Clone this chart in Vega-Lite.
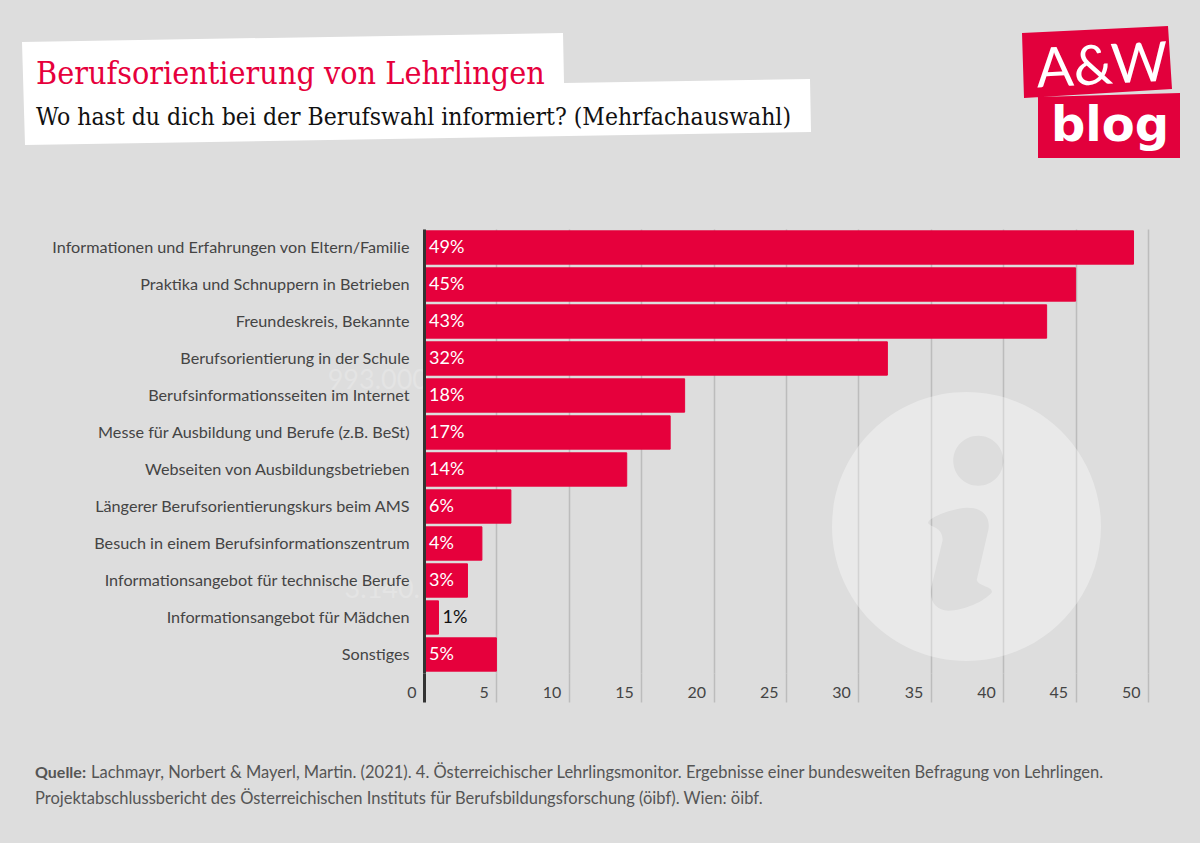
{
"$schema":"https://vega.github.io/schema/vega-lite/v6.json",
"autosize":"none",
"width":724,"height":444,
"padding":{"left":424,"top":229,"right":52,"bottom":170},
"background":"#dddddd",
"view":{"stroke":null},
"title":{"text":"Berufsorientierung von Lehrlingen","subtitle":"Wo hast du dich bei der Berufswahl informiert? (Mehrfachauswahl)","frame":"group","anchor":"start","dx":-388,"dy":104,"offset":0,"zindex":1,"font":"DejaVu Serif Condensed","fontSize":32,"fontWeight":"normal","color":"#e6003c","subtitleFont":"DejaVu Serif Condensed","subtitleFontSize":24.5,"subtitleColor":"#111111","subtitlePadding":15},
"datasets":{
"rows":[
{"Kategorie":"Informationen und Erfahrungen von Eltern/Familie","Anteil":49,"Label":"49%"},
{"Kategorie":"Praktika und Schnuppern in Betrieben","Anteil":45,"Label":"45%"},
{"Kategorie":"Freundeskreis, Bekannte","Anteil":43,"Label":"43%"},
{"Kategorie":"Berufsorientierung in der Schule","Anteil":32,"Label":"32%"},
{"Kategorie":"Berufsinformationsseiten im Internet","Anteil":18,"Label":"18%"},
{"Kategorie":"Messe für Ausbildung und Berufe (z.B. BeSt)","Anteil":17,"Label":"17%"},
{"Kategorie":"Webseiten von Ausbildungsbetrieben","Anteil":14,"Label":"14%"},
{"Kategorie":"Längerer Berufsorientierungskurs beim AMS","Anteil":6,"Label":"6%"},
{"Kategorie":"Besuch in einem Berufsinformationszentrum","Anteil":4,"Label":"4%"},
{"Kategorie":"Informationsangebot für technische Berufe","Anteil":3,"Label":"3%"},
{"Kategorie":"Informationsangebot für Mädchen","Anteil":1,"Label":"1%"},
{"Kategorie":"Sonstiges","Anteil":5,"Label":"5%"}
],
"one":[{"a":1}]
},
"layer":[
{"data":{"name":"one"},"mark":{"type":"point","filled":true,"opacity":1,"size":4,"color":"#ffffff","shape":"M-402,-187 L139,-196 L140,-146 L386,-150 L387,-97 L-399,-84 Z"},"encoding":{"x":{"value":0},"y":{"value":0}}},
{"data":{"name":"one"},"mark":{"type":"text","text":"993.000","font":"Lato","fontSize":27,"align":"right","baseline":"middle","color":"#e4e4e4"},"encoding":{"x":{"value":4},"y":{"value":152}}},
{"data":{"name":"one"},"mark":{"type":"text","text":"3.140.","font":"Lato","fontSize":27,"align":"right","baseline":"middle","color":"#e4e4e4"},"encoding":{"x":{"value":-4},"y":{"value":361}}},
{"data":{"name":"rows"},
"mark":{"type":"bar","color":"#e6003c","stroke":"#e6003c","strokeWidth":1},
"encoding":{
"y":{"field":"Kategorie","type":"nominal","sort":null,"title":null,"scale":{"paddingInner":0.1,"paddingOuter":0.05},
"axis":{"zindex":1,"domain":true,"domainColor":"#333333","domainWidth":3,"ticks":false,"grid":false,"labelPadding":15,"labelFont":"Lato","labelFontSize":16.2,"labelColor":"#444444","labelLimit":400}},
"x":{"field":"Anteil","type":"quantitative","title":null,"scale":{"domain":[0,50],"nice":false},
"axis":{"values":[0,5,10,15,20,25,30,35,40,45,50],"domain":false,"grid":true,"gridColor":"#bcbcbc","gridWidth":1.5,"tickColor":{"condition":{"test":"datum.value===0","value":"#333333"},"value":"#bcbcbc"},"tickWidth":{"condition":{"test":"datum.value===0","value":3},"value":1.5},"tickSize":29,"labelPadding":-10,"labelBaseline":"middle","labelAlign":"right","labelOffset":-8,"labelFlush":false,"labelOverlap":false,"labelFont":"Lato","labelFontSize":16,"labelColor":"#444444"}}
}},
{"data":{"name":"rows"},"transform":[{"filter":"datum.Anteil>1"}],
"mark":{"type":"text","align":"left","dx":5,"font":"Lato","fontSize":18,"color":"#ffffff"},
"encoding":{"y":{"field":"Kategorie","type":"nominal","sort":null},"x":{"datum":0,"type":"quantitative"},"text":{"field":"Label"}}},
{"data":{"name":"rows"},"transform":[{"filter":"datum.Anteil<=1"}],
"mark":{"type":"text","align":"left","dx":4,"font":"Lato","fontSize":18,"color":"#111111"},
"encoding":{"y":{"field":"Kategorie","type":"nominal","sort":null},"x":{"field":"Anteil","type":"quantitative"},"text":{"field":"Label"}}},
{"data":{"name":"one"},"mark":{"type":"point","filled":true,"opacity":0.35,"size":4,"color":"#ffffff","shape":"M-134.5,0 A134.5,134.5 0 1,1 134.5,0 A134.5,134.5 0 1,1 -134.5,0 Z M-13.2,-65.8 A25,25 0 1,0 36.8,-65.8 A25,25 0 1,0 -13.2,-65.8 Z M-38.2,-3.2 C-36,1 -24,0 -23.8,13.5 L-35,60 C-38,75 -30,84 -18.2,84.2 C-3,84 18,75 25.2,66 C27,60 12,60 10.2,53.5 L21.8,3.5 C24,-8 18,-19 0.2,-18.8 C-15,-18 -40,-8 -38.2,-3.2 Z"},"encoding":{"x":{"value":542.5},"y":{"value":297.5}}},
{"data":{"name":"one"},"mark":{"type":"point","filled":true,"opacity":1,"size":4,"color":"#e2003c","shape":"M598,-196 L744,-203 L748,-140 L600,-131 Z M614,-132 L756,-136 L756,-71 L614,-71 Z"},"encoding":{"x":{"value":0},"y":{"value":0}}},
{"data":{"name":"one"},"mark":{"type":"text","text":"A&W","font":"Lato","fontWeight":400,"fontSize":55,"align":"center","baseline":"alphabetic","angle":357,"color":"#ffffff"},"encoding":{"x":{"value":679},"y":{"value":-145}}},
{"data":{"name":"one"},"mark":{"type":"text","text":"blog","font":"DejaVu Sans","fontWeight":"bold","fontSize":48,"align":"center","baseline":"alphabetic","color":"#ffffff"},"encoding":{"x":{"value":686},"y":{"value":-88}}},
{"data":{"name":"one"},"mark":{"type":"text","text":"Quelle:","font":"Lato","fontWeight":"bold","fontSize":16,"align":"left","baseline":"alphabetic","color":"#555555"},"encoding":{"x":{"value":-389},"y":{"value":549}}},
{"data":{"name":"one"},"mark":{"type":"text","text":"Lachmayr, Norbert & Mayerl, Martin. (2021). 4. Österreichischer Lehrlingsmonitor. Ergebnisse einer bundesweiten Befragung von Lehrlingen.","font":"Lato","fontSize":16.5,"align":"left","baseline":"alphabetic","color":"#555555"},"encoding":{"x":{"value":-333},"y":{"value":549}}},
{"data":{"name":"one"},"mark":{"type":"text","text":"Projektabschlussbericht des Österreichischen Instituts für Berufsbildungsforschung (öibf). Wien: öibf.","font":"Lato","fontSize":16.5,"align":"left","baseline":"alphabetic","color":"#555555"},"encoding":{"x":{"value":-389},"y":{"value":575}}}
]
}
